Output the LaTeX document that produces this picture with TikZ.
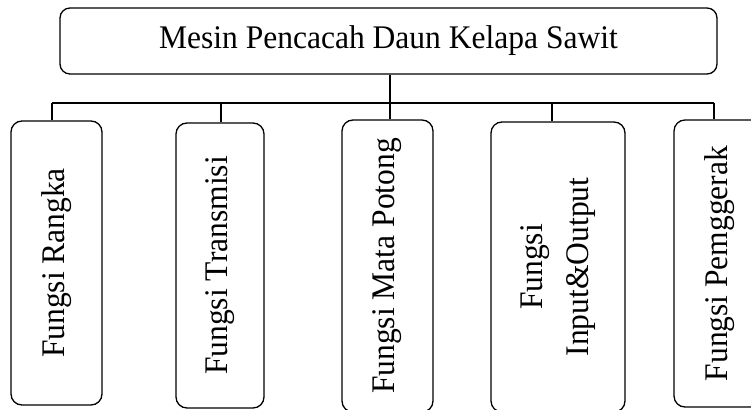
\documentclass[tikz,border=0pt]{standalone}
\usepackage{fontspec}
\setmainfont{Liberation Serif}[FakeStretch=0.955]
\usetikzlibrary{positioning,calc}

\begin{document}
\begin{tikzpicture}[x=1pt,y=-1pt,
    judul/.style={draw,rounded corners=10pt,line width=1.3pt,
      minimum width=657pt,minimum height=66pt,inner sep=0pt,
      font=\fontsize{33}{38}\selectfont},
    fungsibox/.style={draw,rounded corners=11pt,line width=1.3pt,rotate=90,
      inner sep=0pt,align=center,font=\fontsize{33}{38}\selectfont},
    garis/.style={line width=1.3pt}]
  \useasboundingbox (0,0) rectangle (751,409);
  % top block
  \node[judul] (mesin) at (388.5,41) {Mesin Pencacah Daun Kelapa Sawit};
  % sub functions (rotated: width = vertical size)
  \node[fungsibox,minimum width=284pt,minimum height=91pt] (f1) at (56.5,263) {Fungsi Rangka};
  \node[fungsibox,minimum width=285pt,minimum height=88pt] (f2) at (220,265.5) {Fungsi Transmisi};
  \node[fungsibox,minimum width=292pt,minimum height=91pt] (f3) at (387.5,266) {Fungsi Mata Potong};
  \node[fungsibox,minimum width=290pt,minimum height=134pt] (f4) at (558,267) {Fungsi\\[8pt] Input\&Output};
  \node[fungsibox,minimum width=287pt,minimum height=92pt] (f5) at (720,263.5) {Fungsi Pemggerak};
  % branch points on the bar
  \coordinate (b1) at (52,103);
  \coordinate (b2) at (221,103);
  \coordinate (b3) at (390,103);
  \coordinate (b4) at (552,103);
  \coordinate (b5) at (714,103);
  \draw[garis] (b1) -- (b5);
  \draw[garis] (mesin.south -| b3) -- (b3);
  \foreach \i in {1,...,5}
    \draw[garis] (b\i) -- (b\i |- f\i.east);
\end{tikzpicture}
\end{document}
